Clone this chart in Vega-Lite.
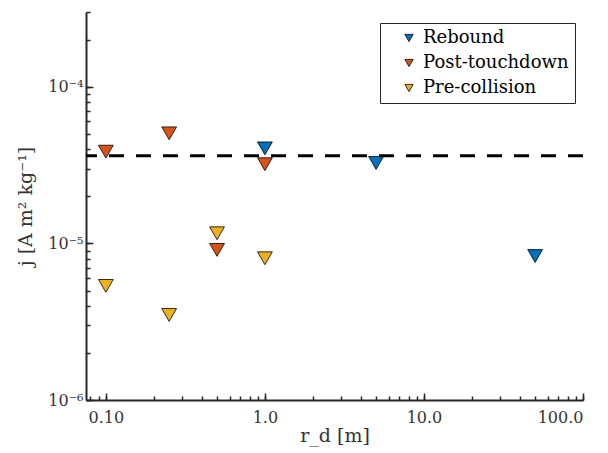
{
  "$schema": "https://vega.github.io/schema/vega-lite/v6.json",
  "width": 497,
  "height": 388,
  "autosize": "none",
  "padding": {"left": 86, "top": 12, "right": 25, "bottom": 53},
  "config": {
    "view": {"stroke": null},
    "font": "DejaVu Serif",
    "axis": {
      "grid": false,
      "domainColor": "#262626",
      "domainWidth": 2,
      "tickColor": "#262626",
      "tickWidth": 1.5,
      "labelColor": "#333333",
      "labelFont": "DejaVu Serif",
      "labelFontSize": 16,
      "titleFont": "DejaVu Serif",
      "titleFontSize": 19,
      "titleFontWeight": "normal",
      "titleColor": "#333333"
    }
  },
  "datasets": {
    "pts": [
      {"phase": "Rebound", "rd": 1.0, "j": 4.04e-5},
      {"phase": "Rebound", "rd": 5, "j": 3.26e-5},
      {"phase": "Rebound", "rd": 50, "j": 8.3e-6},
      {"phase": "Post-touchdown", "rd": 0.1, "j": 3.85e-5},
      {"phase": "Post-touchdown", "rd": 0.25, "j": 5.04e-5},
      {"phase": "Post-touchdown", "rd": 0.5, "j": 9.08e-6},
      {"phase": "Post-touchdown", "rd": 1.0, "j": 3.2e-5},
      {"phase": "Pre-collision", "rd": 0.1, "j": 5.35e-6},
      {"phase": "Pre-collision", "rd": 0.25, "j": 3.49e-6},
      {"phase": "Pre-collision", "rd": 0.5, "j": 1.16e-5},
      {"phase": "Pre-collision", "rd": 1.0, "j": 8.03e-6}
    ],
    "ref": [{"j": 3.63e-5}]
  },
  "layer": [
    {
      "data": {"name": "pts"},
      "mark": {"type": "point", "shape": "triangle-down", "filled": true, "size": 220, "stroke": "black", "strokeWidth": 0.8, "opacity": 1},
      "encoding": {
        "x": {
          "field": "rd", "type": "quantitative",
          "scale": {"type": "log", "domain": [0.075, 100], "nice": false},
          "axis": {"orient": "bottom", "values": [0.08,0.09,0.1,0.2,0.3,0.4,0.5,0.6,0.7,0.8,0.9,1,2,3,4,5,6,7,8,9,10,20,30,40,50,60,70,80,90,100], "labels": false, "domain": false, "tickSize": -4, "title": null}
        },
        "y": {
          "field": "j", "type": "quantitative",
          "scale": {"type": "log", "domain": [1e-6, 3e-4], "nice": false},
          "axis": {"orient": "left", "values": [1e-6,2e-6,3e-6,4e-6,5e-6,6e-6,7e-6,8e-6,9e-6,1e-5,2e-5,3e-5,4e-5,5e-5,6e-5,7e-5,8e-5,9e-5,1e-4,2e-4,3e-4], "labels": false, "domain": false, "tickSize": -4, "title": null}
        },
        "fill": {
          "field": "phase", "type": "nominal",
          "scale": {"domain": ["Rebound", "Post-touchdown", "Pre-collision"], "range": ["#0072BD", "#D95319", "#EDB120"]},
          "legend": {
            "title": null, "orient": "none", "legendX": 294, "legendY": 11,
            "strokeColor": "#262626", "fillColor": "white", "padding": 6,
            "symbolType": "triangle-down", "symbolSize": 70, "symbolStrokeColor": "black", "symbolStrokeWidth": 0.8, "symbolOffset": 14,
            "labelFont": "DejaVu Serif", "labelFontSize": 18, "labelColor": "black", "labelOffset": 5,
            "rowPadding": 7
          }
        }
      }
    },
    {
      "data": {"name": "pts"},
      "mark": {"type": "point", "opacity": 0},
      "encoding": {
        "x": {
          "field": "rd", "type": "quantitative",
          "axis": {"orient": "bottom", "values": [0.1, 1, 10, 100], "tickSize": -7, "labelPadding": 16,
            "labelExpr": "datum.value < 0.5 ? '0.10' : datum.value < 5 ? '1.0' : datum.value < 50 ? '10.0' : '100.0'",
            "title": "r_d [m]", "titlePadding": 1}
        },
        "y": {
          "field": "j", "type": "quantitative",
          "axis": {"orient": "left", "values": [1e-6, 1e-5, 1e-4], "tickSize": -7, "labelPadding": 10,
            "labelExpr": "datum.value < 5e-6 ? '10⁻⁶' : datum.value < 5e-5 ? '10⁻⁵' : '10⁻⁴'",
            "title": "j [A m² kg⁻¹]", "titlePadding": 12}
        }
      }
    },
    {
      "data": {"name": "ref"},
      "mark": {"type": "rule", "strokeDash": [15, 12], "strokeWidth": 3, "color": "black"},
      "encoding": {
        "y": {"field": "j", "type": "quantitative", "axis": null}
      }
    }
  ],
  "resolve": {"axis": {"x": "independent", "y": "independent"}}
}
